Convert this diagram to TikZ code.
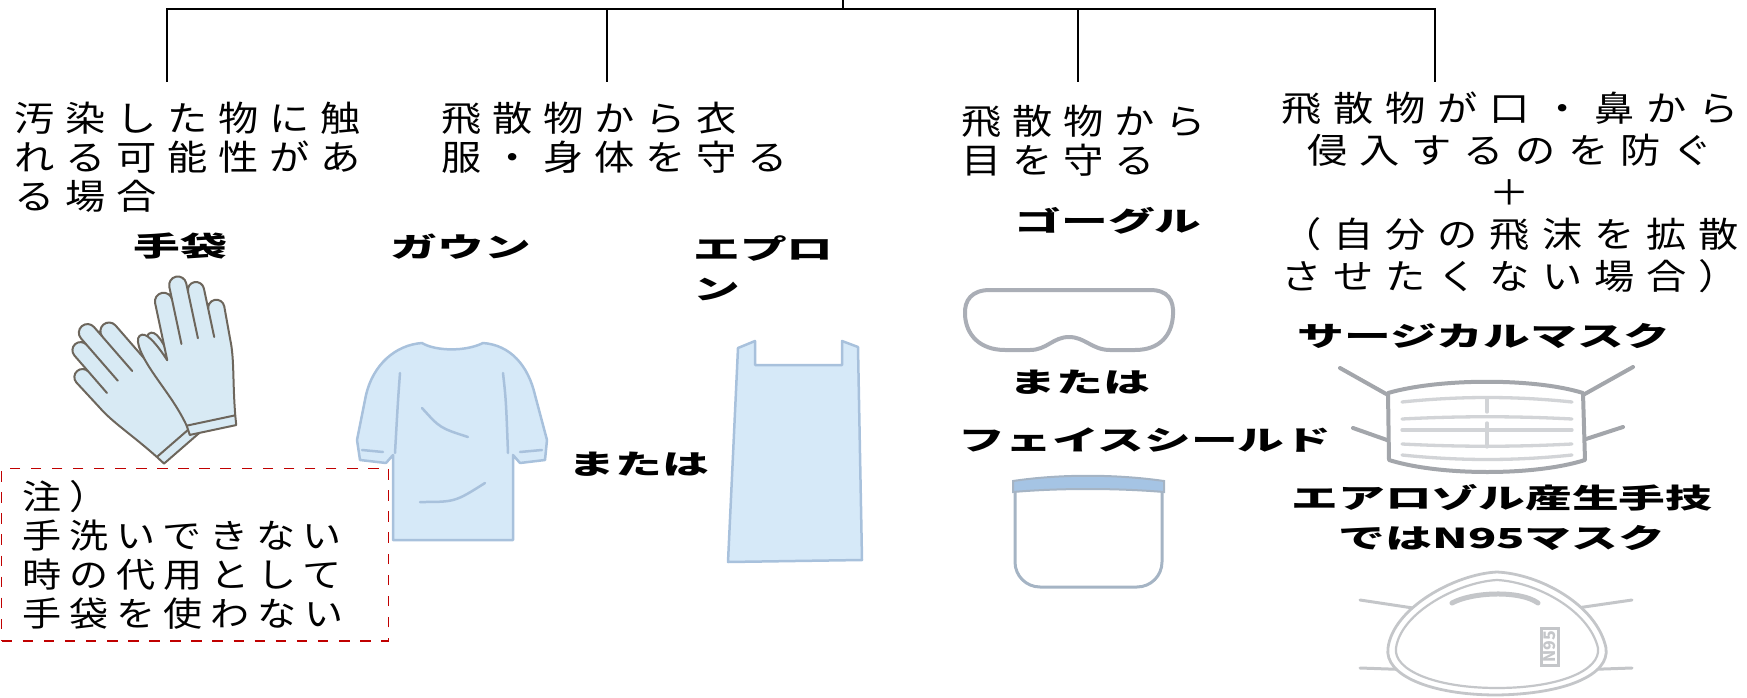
\documentclass[tikz,border=0pt]{standalone}
\usepackage{fontspec}
\setmainfont{Noto Sans CJK JP}
\newfontfamily\jpfont{Noto Sans CJK JP}[FakeStretch=1.15,LetterSpace=31]
\newfontfamily\jpwide{Noto Sans CJK JP}[FakeStretch=1.15,LetterSpace=34]
\newfontfamily\jpnote{Noto Sans CJK JP}[FakeStretch=1.15,LetterSpace=23]
\newfontfamily\jpbold{Noto Sans CJK JP}[FakeStretch=1.7,LetterSpace=0]
\definecolor{notered}{RGB}{192,0,0}
\definecolor{gloveline}{RGB}{109,102,92}
\definecolor{glovefill}{RGB}{216,234,244}
\definecolor{gownline}{RGB}{168,193,220}
\definecolor{gownfill}{RGB}{214,233,248}
\definecolor{goggleline}{RGB}{170,174,182}
\definecolor{shieldline}{RGB}{165,180,196}
\definecolor{shieldband}{RGB}{165,196,228}
\definecolor{maskline}{RGB}{163,166,171}
\definecolor{pleatline}{RGB}{210,212,215}
\definecolor{respline}{RGB}{196,198,201}

\begin{document}
\begin{tikzpicture}[x=0.1mm,y=-0.1mm,thick,
  cond/.style={font={\jpfont\fontsize{3.5mm}{3.9mm}\selectfont},align=left,inner sep=0pt,anchor=north west},
  item/.style={font={\jpbold\bfseries\fontsize{2.75mm}{4mm}\selectfont},inner sep=0pt},
  glove/.style={draw=gloveline,fill=glovefill,line width=0.2mm,line join=round},
  gown/.style={draw=gownline,fill=gownfill,line width=0.25mm,line join=round},
  crease/.style={draw=gownline,line width=0.25mm,line cap=round},
  maskband/.style={draw=maskline,line width=0.4mm,line cap=round}]
%\draw [help lines,step=100](0,0) grid (1747,698);
\useasboundingbox (0,0) rectangle (1747,698);

% tree
\coordinate (top) at (843,0);
\coordinate (B0) at (843,9);
\coordinate (B1) at (167,9);
\coordinate (B2) at (607,9);
\coordinate (B3) at (1078,9);
\coordinate (B4) at (1435,9);
\coordinate (D1) at (167,82);
\coordinate (D2) at (607,82);
\coordinate (D3) at (1078,82);
\coordinate (D4) at (1435,82);
\draw (top) -- (B0);
\draw (D1) -- (B1) -- (B4) -- (D4);
\draw (B2) -- (D2);
\draw (B3) -- (D3);

\node [cond] (touch) at (13,101) {汚染した物に触\\れる可能性があ\\る場合};
\node [cond] (body) at (440,101) {飛散物から衣\\服・身体を守る};
\node [cond] (eye) at (960,104) {飛散物から\\目を守る};
\node [cond,anchor=north,align=center,font={\jpwide\fontsize{3.5mm}{4.2mm}\selectfont}] (mouth) at (1510,90)
  {飛散物が口・鼻から\\侵入するのを防ぐ\\＋\\（自分の飛沫を拡散\\させたくない場合）};

% labels
\node [item] (gloveL) at (180,246) {手袋};
\node [item] (gownL) at (461,247) {ガウン};
\node [item,anchor=north west,align=left] (apronL) at (692,234) {エプロ\\ン};
\node [item] (or1) at (639,464) {または};
\node [item] (goggleL) at (1108,221) {ゴーグル};
\node [item] (or2) at (1080,382) {または};
\node [item] (shieldL) at (1145,440) {フェイスシールド};
\node [item] (maskL) at (1484,336) {サージカルマスク};
\node [item,align=center] (resp) at (1502,518) {エアロゾル産生手技\\ではN95マスク};

\node [draw=notered,dashed,line width=0.12mm,anchor=north west,minimum width=38.7mm,minimum height=16.9mm,
  inner xsep=2.1mm,text width=34.5mm,align=left,font={\jpnote\fontsize{3.4mm}{3.9mm}\selectfont}] (note) at (1,468)
  {注）\\手洗いできない\\時の代用として\\手袋を使わない};

% gloves
\foreach \gx/\gy/\ga/\gm in {182/448/41/-1,213/430/12/1}{
\begin{scope}[shift={(\gx,\gy)},yscale=-1,rotate=-\ga,xscale=\gm,scale=1.08]
\filldraw [glove] (-22,0) -- (22,0) -- (23,9) .. controls (27,40) and (33,60) .. (33,78)
  -- (34,110) arc [start angle=0,end angle=180,radius=7.5]
  -- (19,84) -- (19,130) arc [start angle=0,end angle=180,radius=7.5]
  -- (4,86) -- (4,138) arc [start angle=0,end angle=180,radius=8]
  -- (-12,84) -- (-12,126) arc [start angle=0,end angle=180,radius=8]
  -- (-28,72) .. controls (-33,85) and (-40,100) .. (-46,100)
  .. controls (-54,100) and (-52,85) .. (-44,65) .. controls (-36,45) and (-28,30) .. (-23,9) -- cycle;
\draw [glove] (-23,9) -- (23,9);
\end{scope}}

% gown
\filldraw [gown] (422,343) .. controls (435,351) and (465,352) .. (483,343)
  .. controls (510,345) and (528,365) .. (535,395) -- (547,440) -- (545,460) -- (520,463) -- (513,455)
  -- (513,540) -- (393,540) -- (393,455) -- (386,463) -- (360,460) -- (357,440) -- (366,395)
  .. controls (373,365) and (395,345) .. (422,343) -- cycle;
\draw [crease] (400,373) .. controls (398,400) .. (395,453);
\draw [crease] (503,373) .. controls (506,400) .. (508,453);
\draw [crease] (422,408) .. controls (440,428) .. (468,437);
\draw [crease] (420,502) .. controls (455,502) .. (485,483);
\draw [crease] (362,450) -- (383,452);
\draw [crease] (520,452) -- (542,450);

% apron
\filldraw [gown] (738,348) -- (755,341) -- (755,365) -- (842,365) -- (842,341) -- (858,347)
  -- (862,560) -- (728,562) -- cycle;

% goggles
\filldraw [draw=goggleline,fill=white,line width=0.4mm] (990,290) -- (1150,290)
  .. controls (1168,290) and (1174,300) .. (1173,315) .. controls (1172,335) and (1160,350) .. (1135,350)
  -- (1110,350) .. controls (1092,350) and (1085,337) .. (1069,337) .. controls (1053,337) and (1047,350) .. (1030,350)
  -- (1005,350) .. controls (980,350) and (966,335) .. (965,315) .. controls (964,300) and (972,290) .. (990,290) -- cycle;

% face shield
\filldraw [draw=shieldline,fill=white,line width=0.3mm,rounded corners=2.5mm] (1015,484) -- (1015,587) -- (1162,587) -- (1162,484);
\filldraw [draw=shieldline,fill=shieldband,line width=0.2mm] (1013,481) .. controls (1060,474) and (1115,474) .. (1164,481)
  -- (1164,492) .. controls (1115,488) and (1060,488) .. (1013,492) -- cycle;

% surgical mask
\draw [maskband] (1388,395) -- (1340,368);
\draw [maskband] (1583,395) -- (1633,367);
\draw [maskband] (1387,440) -- (1353,428);
\draw [maskband] (1583,440) -- (1623,427);
\filldraw [draw=maskline,fill=white,line width=0.4mm,line join=round] (1388,393) .. controls (1440,378) and (1535,378) .. (1583,393)
  -- (1585,460) .. controls (1535,476) and (1440,476) .. (1389,460) -- cycle;
\foreach \py/\pb in {402/-6,419/-3,430/0,444/3,455/6}
  \draw [pleatline,line width=0.33mm,line cap=round] (1402,\py) .. controls (1460,{\py+\pb}) and (1515,{\py+\pb}) .. (1572,\py);
\draw [pleatline,line width=0.33mm,line cap=round] (1487,398) -- (1487,412);
\draw [pleatline,line width=0.33mm,line cap=round] (1487,423) -- (1487,447);

% N95 mask
\draw [respline,line width=0.3mm,line cap=round] (1360,600) -- (1413,608);
\draw [respline,line width=0.3mm,line cap=round] (1577,608) -- (1632,600);
\draw [respline,line width=0.3mm,line cap=round] (1360,668) -- (1417,670);
\draw [respline,line width=0.3mm,line cap=round] (1575,670) -- (1632,668);
\filldraw [draw=respline,fill=white,line width=0.28mm] (1497,572) .. controls (1540,574) and (1597,605) .. (1606,648)
  .. controls (1610,675) and (1565,694) .. (1497,695) .. controls (1430,695) and (1384,675) .. (1388,648)
  .. controls (1393,608) and (1455,574) .. (1497,572) -- cycle;
\draw [respline,line width=0.22mm] (1497,580) .. controls (1536,582) and (1589,610) .. (1598,648)
  .. controls (1601,670) and (1560,688) .. (1497,688) .. controls (1435,688) and (1393,670) .. (1396,648)
  .. controls (1401,612) and (1459,582) .. (1497,580) -- cycle;
\draw [respline,line width=0.5mm,line cap=round] (1452,603) .. controls (1472,592) and (1520,590) .. (1538,603);
\node [draw=respline,text=respline,line width=0.25mm,rotate=90,inner sep=0.25mm,font={\fontsize{1.6mm}{1.8mm}\selectfont\bfseries}] (tag) at (1550,647) {N95};
\end{tikzpicture}
\end{document}
